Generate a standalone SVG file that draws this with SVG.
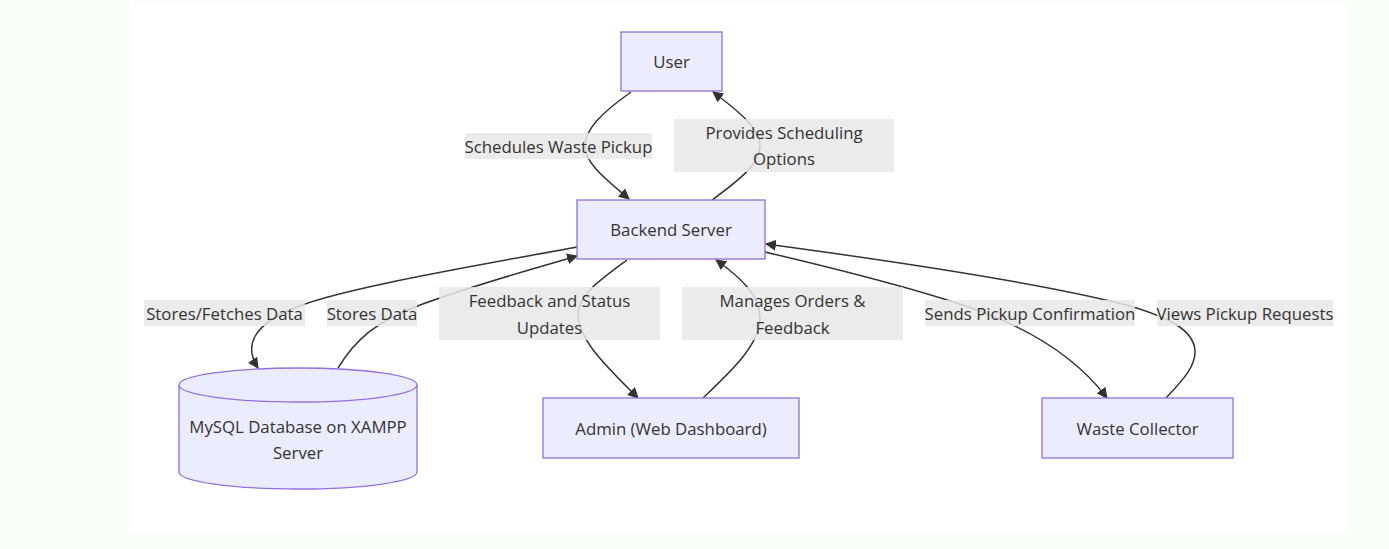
<svg xmlns="http://www.w3.org/2000/svg" width="1389" height="549" viewBox="0 0 1389 549">
<defs>
<style>
.bg{fill:#f9fef9}
.node{fill:#ECECFF;stroke:#9370DB;stroke-width:1.3}
.t{font-family:"Open Sans","Noto Sans","Liberation Sans",sans-serif;font-size:16.8px;fill:#333;text-anchor:middle;dominant-baseline:central}
.edge{fill:none;stroke:#333;stroke-width:1.5}
.lbl{fill:#e8e8e8;fill-opacity:0.85}
</style>
<marker id="arr" viewBox="0 0 10 10" refX="9" refY="5" markerWidth="11" markerHeight="11" markerUnits="userSpaceOnUse" orient="auto">
<path d="M0,0 L10,5 L0,10 z" fill="#333"/>
</marker>
</defs>
<rect class="bg" x="0" y="0" width="1389" height="549"/>
<rect x="130" y="4" width="1218" height="529" fill="#ffffff"/>

<g id="connectors">
<path class="edge" marker-end="url(#arr)" d="M631,92 C600,114 585,130 585,146 C585,164 607,180 629,199"/>
<path class="edge" marker-end="url(#arr)" d="M712,200 C735,183 760,165 760,146 C760,128 737,110 713,92"/>
<path class="edge" marker-end="url(#arr)" d="M577,247 C480,265 330,290 290,310 C255,325 243,345 258,368"/>
<path class="edge" marker-end="url(#arr)" d="M338,368 C355,340 375,322 420,305 C480,283 530,270 577,256"/>
<path class="edge" marker-end="url(#arr)" d="M627,260 C600,280 578,295 578,315 C578,340 610,370 638,398"/>
<path class="edge" marker-end="url(#arr)" d="M703,398 C730,372 760,345 760,318 C760,295 740,277 716,260"/>
<path class="edge" marker-end="url(#arr)" d="M765,252 C850,272 940,295 990,315 C1040,335 1080,362 1107,398"/>
<path class="edge" marker-end="url(#arr)" d="M1166,398 C1185,378 1196,365 1195,350 C1193,330 1170,318 1130,306 C1050,285 900,262 766,244"/>
</g>

<g id="edge-labels">
<g id="lbl-schedules"><rect class="lbl" x="465" y="133" width="187" height="26"/><text class="t" x="558.5" y="146">Schedules Waste Pickup</text></g>
<g id="lbl-provides"><rect class="lbl" x="674" y="119" width="220" height="53"/><text class="t" x="784" y="132">Provides Scheduling</text><text class="t" x="784" y="158">Options</text></g>
<g id="lbl-storesfetches"><rect class="lbl" x="144" y="300" width="161" height="26"/><text class="t" x="224.5" y="313">Stores/Fetches Data</text></g>
<g id="lbl-stores"><rect class="lbl" x="327" y="300" width="90" height="26"/><text class="t" x="372" y="313">Stores Data</text></g>
<g id="lbl-feedback"><rect class="lbl" x="439" y="287" width="221" height="53"/><text class="t" x="549.5" y="300">Feedback and Status</text><text class="t" x="549.5" y="327">Updates</text></g>
<g id="lbl-manages"><rect class="lbl" x="682" y="287" width="221" height="53"/><text class="t" x="792.5" y="300">Manages Orders &amp;</text><text class="t" x="792.5" y="327">Feedback</text></g>
<g id="lbl-sends"><rect class="lbl" x="925" y="300" width="210" height="26"/><text class="t" x="1030" y="313">Sends Pickup Confirmation</text></g>
<g id="lbl-views"><rect class="lbl" x="1157" y="300" width="176" height="26"/><text class="t" x="1245" y="313">Views Pickup Requests</text></g>
</g>

<g id="node-user"><rect class="node" x="621" y="32" width="101" height="59"/><text class="t" x="671.5" y="61.5">User</text></g>
<g id="node-backend"><rect class="node" x="577" y="200" width="188" height="59"/><text class="t" x="671" y="229.5">Backend Server</text></g>
<g id="node-db"><path class="node" d="M179,385 a119,17 0 0 0 238,0 a119,17 0 0 0 -238,0 l0,87 a119,17 0 0 0 238,0 l0,-87"/><text class="t" x="298" y="426">MySQL Database on XAMPP</text><text class="t" x="298" y="452">Server</text></g>
<g id="node-admin"><rect class="node" x="543" y="398" width="256" height="60"/><text class="t" x="671" y="428">Admin (Web Dashboard)</text></g>
<g id="node-collector"><rect class="node" x="1042" y="398" width="191" height="60"/><text class="t" x="1137.5" y="428">Waste Collector</text></g>
</svg>
